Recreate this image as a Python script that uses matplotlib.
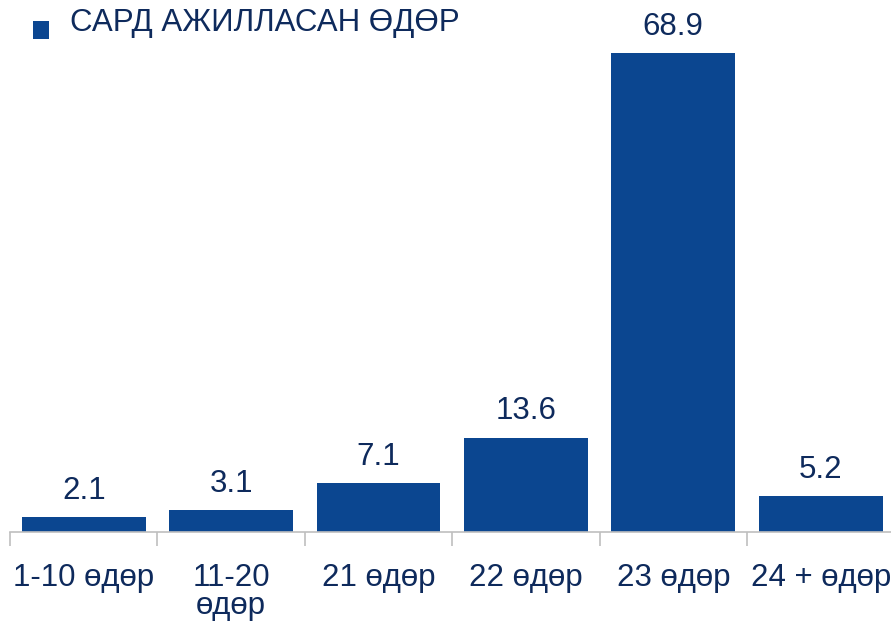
import numpy as np
import matplotlib
matplotlib.use("Agg")
import matplotlib.pyplot as plt
from matplotlib.patches import Rectangle
from matplotlib.legend_handler import HandlerPatch

categories = ["1-10 өдөр", "11-20\nөдөр", "21 өдөр", "22 өдөр", "23 өдөр", "24 + өдөр"]
values = [2.1, 3.1, 7.1, 13.6, 68.9, 5.2]
series_name = "САРД АЖИЛЛАСАН ӨДӨР"

bar_color = "#0B4690"
text_color = "#0E2A5C"
axis_color = "#BFBFBF"
fs = 22.5

plt.rcParams["font.family"] = ["Liberation Sans", "DejaVu Sans"]


def low_square(legend, orig_handle, xdescent, ydescent, width, height, fontsize):
    # legend key sits a bit below the text centre
    return Rectangle((-xdescent, -ydescent - 7.5), width, height)


fig = plt.figure(figsize=(8.91, 6.27), dpi=100)
# axes run a little past the right edge so the last slot is clipped
ax = fig.add_axes([10 / 891, 95 / 627, 884.4 / 891, 521 / 627])

x = np.arange(len(categories))
bars = ax.bar(x, values, width=0.84, color=bar_color, label=series_name, zorder=2)

for b, v in zip(bars, values):
    ax.annotate(f"{v:.1f}", (b.get_x() + b.get_width() / 2, v),
                xytext=(0, 8), textcoords="offset points",
                ha="center", va="bottom", fontsize=fs, color=text_color)

ax.set_xlim(-0.5, len(categories) - 0.5)
ax.set_ylim(0, 75)

for s in ["top", "right", "left"]:
    ax.spines[s].set_visible(False)
ax.spines["bottom"].set_color(axis_color)
ax.spines["bottom"].set_linewidth(1.2)
ax.set_yticks([])

# category boundaries get the tick marks, labels sit under the bar centres
ax.set_xticks(x - 0.5, minor=False)
ax.set_xticklabels([])
ax.tick_params(axis="x", which="major", length=10, width=1.2, color=axis_color, direction="out")
ax.set_xticks(x, minor=True)
ax.set_xticklabels(categories, minor=True, fontsize=fs, color=text_color, linespacing=0.95, va="top")
ax.tick_params(axis="x", which="minor", length=0, pad=22)

leg = fig.legend(handles=[bars[0]], labels=[series_name], loc="upper left",
                 bbox_to_anchor=(33 / 891, 1 - 8 / 627), frameon=False,
                 fontsize=fs, handlelength=0.52, handleheight=0.52, handletextpad=0.68,
                 borderpad=0, borderaxespad=0,
                 handler_map={bars[0]: HandlerPatch(patch_func=low_square)})
for t in leg.get_texts():
    t.set_color(text_color)

fig.savefig("out.png", dpi=100)
